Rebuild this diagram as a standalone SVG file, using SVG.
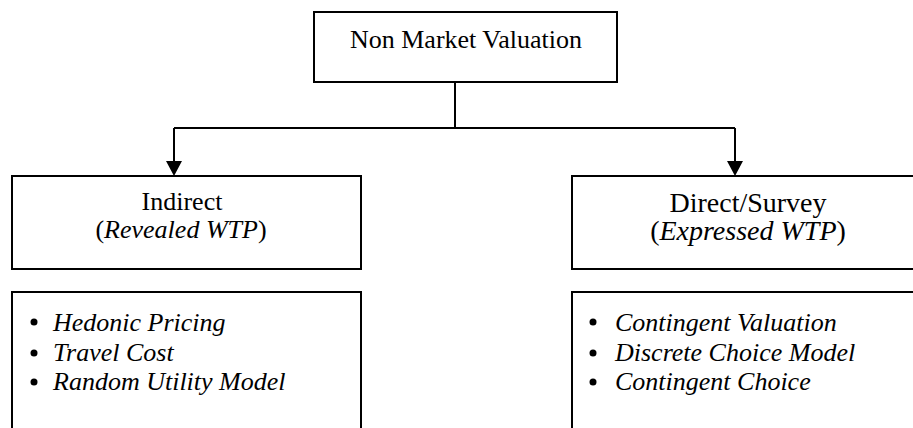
<svg xmlns="http://www.w3.org/2000/svg" width="913" height="428" viewBox="0 0 913 428">
<style>
.box{fill:#fff;stroke:#000;stroke-width:2}
.t{font-family:"Liberation Serif","Times New Roman",serif;font-size:26px;fill:#000}
.i{font-style:italic}
.c{text-anchor:middle}
.conn{fill:none;stroke:#000;stroke-width:2}
</style>
<defs>
<marker id="ah" markerWidth="16" markerHeight="15" refX="8" refY="15" orient="auto-start-reverse" markerUnits="userSpaceOnUse" viewBox="0 0 16 15">
<path d="M0,0 L16,0 L8,15 Z" fill="#000" transform="rotate(0)"/>
</marker>
</defs>
<rect width="913" height="428" fill="#fff"/>
<g id="connectors">
<path class="conn" d="M455,82 V128"/>
<path class="conn" d="M174,128 H735"/>
<path class="conn" d="M174,128 V161"/>
<path d="M166,161 L182,161 L174,176 Z" fill="#000"/>
<path class="conn" d="M735,128 V161"/>
<path d="M727,161 L743,161 L735,176 Z" fill="#000"/>
</g>
<g id="root">
<rect class="box" x="314" y="12" width="303" height="70"/>
<text class="t c" x="466" y="48">Non Market Valuation</text>
</g>
<g id="indirect">
<rect class="box" x="12" y="176" width="349" height="93"/>
<text class="t c" x="182" y="210">Indirect</text>
<text class="t c" x="181" y="238">(<tspan class="i">Revealed WTP</tspan>)</text>
</g>
<g id="direct">
<rect class="box" x="572" y="176" width="360" height="93"/>
<text class="t c" x="748" y="212" style="font-size:28px">Direct/Survey</text>
<text class="t c" x="748" y="240" style="font-size:28px">(<tspan class="i">Expressed WTP</tspan>)</text>
</g>
<g id="indirect-methods">
<rect class="box" x="12" y="292" width="349" height="160"/>
<circle cx="34" cy="322" r="3.5"/>
<circle cx="34" cy="353" r="3.5"/>
<circle cx="34" cy="382" r="3.5"/>
<text class="t i" x="53" y="331">Hedonic Pricing</text>
<text class="t i" x="53" y="361">Travel Cost</text>
<text class="t i" x="53" y="390">Random Utility Model</text>
</g>
<g id="direct-methods">
<rect class="box" x="572" y="292" width="360" height="160"/>
<circle cx="593" cy="322" r="3.5"/>
<circle cx="593" cy="353" r="3.5"/>
<circle cx="593" cy="382" r="3.5"/>
<text class="t i" x="615" y="331">Contingent Valuation</text>
<text class="t i" x="615" y="361">Discrete Choice Model</text>
<text class="t i" x="615" y="390">Contingent Choice</text>
</g>
</svg>
